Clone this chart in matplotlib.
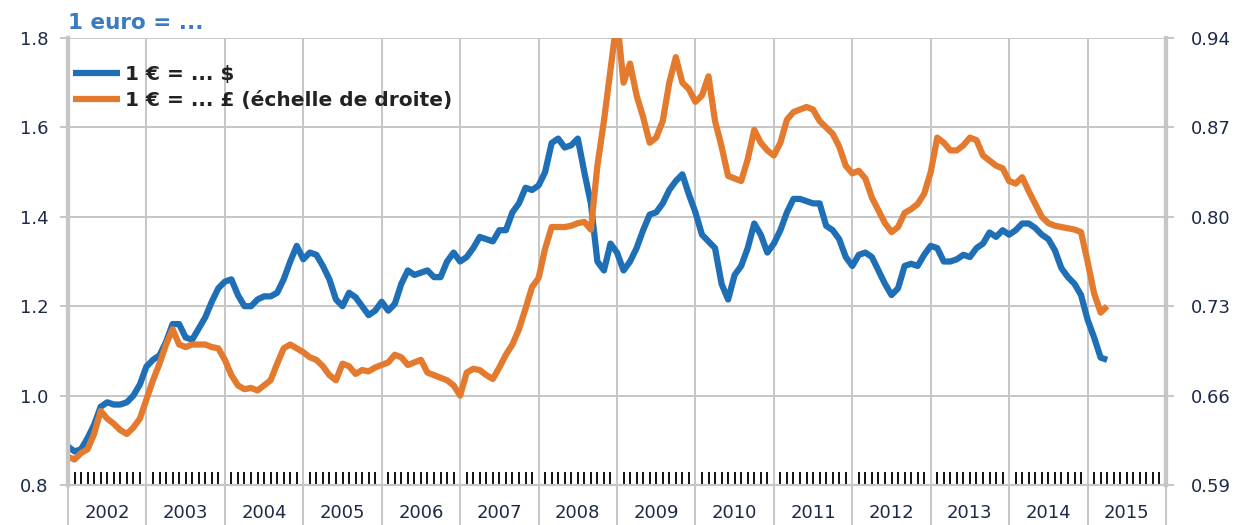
import numpy as np
import matplotlib
matplotlib.use("Agg")
import matplotlib.pyplot as plt

# monthly readings, Jan 2002 .. Apr 2015
eur_usd = [
    0.886, 0.875, 0.880, 0.905, 0.935, 0.975, 0.985, 0.980, 0.980, 0.985, 1.000, 1.025,  # 2002
    1.065, 1.080, 1.090, 1.120, 1.160, 1.160, 1.130, 1.125, 1.150, 1.175, 1.210, 1.240,  # 2003
    1.255, 1.260, 1.225, 1.200, 1.200, 1.215, 1.222, 1.222, 1.230, 1.260, 1.300, 1.335,  # 2004
    1.305, 1.320, 1.315, 1.290, 1.260, 1.215, 1.200, 1.230, 1.220, 1.200, 1.180, 1.190,  # 2005
    1.210, 1.190, 1.205, 1.250, 1.280, 1.270, 1.275, 1.280, 1.265, 1.265, 1.300, 1.320,  # 2006
    1.300, 1.310, 1.330, 1.355, 1.350, 1.345, 1.370, 1.370, 1.410, 1.430, 1.465, 1.460,  # 2007
    1.470, 1.500, 1.565, 1.575, 1.555, 1.560, 1.575, 1.500, 1.430, 1.300, 1.280, 1.340,  # 2008
    1.320, 1.280, 1.300, 1.330, 1.370, 1.405, 1.410, 1.430, 1.460, 1.480, 1.495, 1.450,  # 2009
    1.410, 1.360, 1.345, 1.330, 1.250, 1.215, 1.270, 1.290, 1.330, 1.385, 1.360, 1.320,  # 2010
    1.340, 1.370, 1.410, 1.440, 1.440, 1.435, 1.430, 1.430, 1.380, 1.370, 1.350, 1.310,  # 2011
    1.290, 1.315, 1.320, 1.310, 1.280, 1.250, 1.225, 1.240, 1.290, 1.295, 1.290, 1.315,  # 2012
    1.335, 1.330, 1.300, 1.300, 1.305, 1.315, 1.310, 1.330, 1.340, 1.365, 1.355, 1.370,  # 2013
    1.360, 1.370, 1.385, 1.385, 1.375, 1.360, 1.350, 1.325, 1.285, 1.265, 1.250, 1.225,  # 2014
    1.170, 1.130, 1.085, 1.080,                                                          # 2015
]
eur_gbp = [
    0.612, 0.610, 0.615, 0.618, 0.630, 0.648, 0.642, 0.638, 0.633, 0.630, 0.635, 0.642,  # 2002
    0.657, 0.672, 0.685, 0.700, 0.712, 0.700, 0.698, 0.700, 0.700, 0.700, 0.698, 0.697,  # 2003
    0.688, 0.676, 0.668, 0.665, 0.666, 0.664, 0.668, 0.672, 0.685, 0.697, 0.700, 0.697,  # 2004
    0.694, 0.690, 0.688, 0.683, 0.676, 0.672, 0.685, 0.683, 0.677, 0.680, 0.679, 0.682,  # 2005
    0.684, 0.686, 0.692, 0.690, 0.684, 0.686, 0.688, 0.678, 0.676, 0.674, 0.672, 0.668,  # 2006
    0.660, 0.678, 0.681, 0.680, 0.676, 0.673, 0.682, 0.692, 0.700, 0.712, 0.728, 0.745,  # 2007
    0.752, 0.775, 0.792, 0.792, 0.792, 0.793, 0.795, 0.796, 0.790, 0.840, 0.875, 0.915,  # 2008
    0.955, 0.905, 0.920, 0.895, 0.878, 0.858, 0.862, 0.875, 0.905, 0.925, 0.905, 0.900,  # 2009
    0.890, 0.895, 0.910, 0.875, 0.855, 0.832, 0.830, 0.828, 0.845, 0.868, 0.858, 0.852,  # 2010
    0.848, 0.858, 0.876, 0.882, 0.884, 0.886, 0.884, 0.875, 0.870, 0.865, 0.855, 0.840,  # 2011
    0.834, 0.836, 0.830, 0.815, 0.805, 0.795, 0.788, 0.792, 0.803, 0.806, 0.810, 0.818,  # 2012
    0.835, 0.862, 0.858, 0.852, 0.852, 0.856, 0.862, 0.860, 0.848, 0.844, 0.840, 0.838,  # 2013
    0.828, 0.826, 0.831, 0.820, 0.810, 0.800, 0.795, 0.793, 0.792, 0.791, 0.790, 0.788,  # 2014
    0.765, 0.740, 0.725, 0.730,                                                          # 2015
]
years = list(range(2002, 2016))
left_ticks = [0.8, 1.0, 1.2, 1.4, 1.6, 1.8]
right_ticks = [0.59, 0.66, 0.73, 0.80, 0.87, 0.94]

blue = "#1f6fb6"
orange = "#e47a2e"
grey = "#c6c6c6"
navy = "#1c2a48"

t = 2002 + np.arange(len(eur_usd)) / 12.0

fig = plt.figure(figsize=(12.42, 5.25), dpi=100)
ax = fig.add_axes([68 / 1242, 1 - 485 / 525, (1166 - 68) / 1242, (485 - 38) / 525])
ax2 = ax.twinx()

l1, = ax.plot(t, eur_usd, color=blue, lw=4.5, solid_capstyle="butt", label="1 € = ... $")
l2, = ax2.plot(t, eur_gbp, color=orange, lw=4.5, solid_capstyle="butt",
               label="1 € = ... £ (échelle de droite)")

ax.set_xlim(2002, 2016)
ax.set_ylim(0.8, 1.8)
ax2.set_ylim(0.59, 0.94)
ax.set_yticks(left_ticks)
ax.set_yticklabels([f"{v:.1f}" for v in left_ticks])
ax2.set_yticks(right_ticks)
ax2.set_yticklabels([f"{v:.2f}" for v in right_ticks])

ax.set_xticks(years + [2016])
ax.set_xticklabels([])
months = [y + k / 12 for y in years for k in range(1, 12)]
ax.set_xticks(months, minor=True)
ax.tick_params(axis="x", which="major", direction="out", length=29, width=1.4, color=grey)
ax.tick_params(axis="x", which="minor", direction="in", length=9.5, width=1.4, color="#111111")
ax.tick_params(axis="y", direction="out", length=6, width=1.4, color=grey,
               labelsize=13, labelcolor=navy, pad=8)
ax2.tick_params(axis="y", direction="out", length=6, width=1.4, color=grey,
                labelsize=13, labelcolor=navy, pad=12)

ax.grid(True, which="major", color=grey, lw=1.4)
ax.set_axisbelow(True)

for a in (ax, ax2):
    a.spines["top"].set_visible(False)
    a.spines["left"].set_color(grey)
    a.spines["left"].set_linewidth(3)
    a.spines["right"].set_color(grey)
    a.spines["right"].set_linewidth(3)
    a.spines["bottom"].set_color(grey)
    a.spines["bottom"].set_linewidth(1.5)

sec = ax.secondary_xaxis("bottom")
sec.set_xticks([y + 0.5 for y in years])
sec.set_xticklabels([str(y) for y in years])
sec.tick_params(length=0, pad=14, labelsize=13, labelcolor=navy)
sec.spines["bottom"].set_visible(False)

leg = ax2.legend(handles=[l1, l2], loc="upper left", bbox_to_anchor=(-0.008, 0.972),
                 frameon=False, handlelength=2.3, handletextpad=0.25, labelspacing=0.38,
                 borderaxespad=0.3, prop={"size": 14.5, "weight": "bold"})
for txt in leg.get_texts():
    txt.set_color("#222222")

fig.text(68 / 1242, 1 - 23 / 525, "1 euro = ...", color="#3b7cc0", fontsize=15.5,
         fontweight="bold", va="center", ha="left")

fig.savefig("out.png", dpi=100)
